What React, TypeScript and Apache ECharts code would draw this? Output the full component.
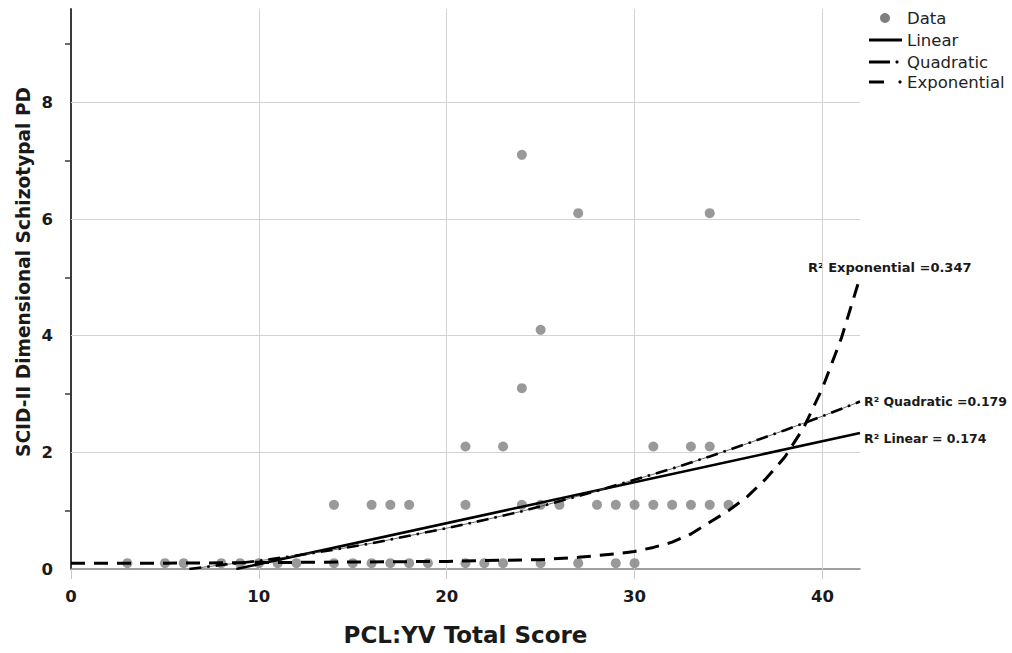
import React, { useEffect, useRef } from "react";
import * as echarts from "echarts";

// Observed data points (PCL:YV score, SCID-II dimensional schizotypal PD)
const pclScores = [
  3, 5, 6, 8, 9, 10, 11, 12, 14, 15, 16, 17, 18, 19, 21, 22, 23, 25, 27, 29, 30,
  14, 16, 17, 18, 21, 24, 25, 26, 28, 29, 30, 31, 32, 33, 34, 35,
  21, 23, 31, 33, 34,
  24,
  25,
  27, 34,
  24,
];
const scidScores = [
  0.1, 0.1, 0.1, 0.1, 0.1, 0.1, 0.1, 0.1, 0.1, 0.1, 0.1, 0.1, 0.1, 0.1, 0.1, 0.1, 0.1, 0.1, 0.1, 0.1, 0.1,
  1.1, 1.1, 1.1, 1.1, 1.1, 1.1, 1.1, 1.1, 1.1, 1.1, 1.1, 1.1, 1.1, 1.1, 1.1, 1.1,
  2.1, 2.1, 2.1, 2.1, 2.1,
  3.1,
  4.1,
  6.1, 6.1,
  7.1,
];

// Fit curves
const linearX = [8.8, 42];
const linearY = [0, 2.33];
const quadX = [6.3, 8, 10, 12, 14, 16, 18, 20, 22, 24, 26, 28, 30, 32, 34, 36, 38, 40, 42];
const quadY = [0, 0.07, 0.14, 0.23, 0.33, 0.44, 0.57, 0.7, 0.84, 0.99, 1.16, 1.34, 1.53, 1.72, 1.93, 2.15, 2.38, 2.62, 2.87];
const expX = [0, 5, 10, 15, 20, 23, 25, 27, 29, 30, 31, 32, 33, 34, 35, 36, 37, 38, 39, 40, 41, 42];
const expY = [0.1, 0.1, 0.11, 0.12, 0.13, 0.15, 0.16, 0.2, 0.26, 0.3, 0.37, 0.46, 0.6, 0.8, 1.0, 1.24, 1.55, 1.92, 2.42, 3.1, 3.95, 5.0];

const xTicks = [0, 10, 20, 30, 40];
const yTicks = [0, 2, 4, 6, 8];
const xGrid = [10, 20, 30, 40];
const yGrid = [2, 4, 6, 8];

const xTitle = "PCL:YV Total Score";
const yTitle = "SCID-II Dimensional Schizotypal PD";
const rLinear = "R² Linear = 0.174";
const rQuad = "R² Quadratic =0.179";
const rExp = "R² Exponential =0.347";

const FONT = "DejaVu Sans";
const zip = (xs: number[], ys: number[]) => xs.map((x, i) => [x, ys[i]]);

export default function App() {
  const ref = useRef<HTMLDivElement>(null);
  useEffect(() => {
    if (!ref.current) return;
    const chart = echarts.init(ref.current, undefined, { renderer: "svg" });
    const labelText = { fontFamily: FONT, fontWeight: "bold", fontSize: 12.5, fill: "#1a1a1a" };
    const legendText = { fontFamily: FONT, fontSize: 16.5, fill: "#222" };
    chart.setOption({
      animation: false,
      backgroundColor: "#ffffff",
      grid: { left: 71, right: 152, top: 9, bottom: 84, containLabel: false },
      xAxis: {
        type: "value",
        min: 0,
        max: 42,
        interval: 10,
        name: xTitle,
        nameLocation: "middle",
        nameGap: 54,
        nameTextStyle: { fontFamily: FONT, fontWeight: "bold", fontSize: 23, color: "#1a1a1a" },
        axisLine: { show: true, lineStyle: { color: "#808080", width: 1.5 } },
        axisTick: { show: true, customValues: xTicks, length: 10, lineStyle: { color: "#c8c8c8", width: 1 } },
        axisLabel: { customValues: xTicks, fontFamily: FONT, fontWeight: "bold", fontSize: 16.5, color: "#1a1a1a", margin: 19 },
        splitLine: { show: false },
      },
      yAxis: {
        type: "value",
        min: 0,
        max: 9.6,
        interval: 2,
        axisLine: { show: true, lineStyle: { color: "#3a3a3a", width: 2 } },
        axisTick: { show: false },
        minorTick: { show: true, splitNumber: 2, length: 6, lineStyle: { color: "#3a3a3a", width: 1.5 } },
        axisLabel: { customValues: yTicks, fontFamily: FONT, fontWeight: "bold", fontSize: 16.5, color: "#1a1a1a", margin: 18 },
        splitLine: { show: false },
      },
      series: [
        {
          name: "Data",
          type: "scatter",
          z: 3,
          symbol: "circle",
          symbolSize: 10,
          itemStyle: { color: "#7f7f7f" },
          data: zip(pclScores, scidScores),
          markLine: {
            silent: true,
            z: 1,
            symbol: "none",
            label: { show: false },
            lineStyle: { color: "#d2d2d2", width: 1, type: "solid" },
            data: [...yGrid.map((v) => ({ yAxis: v })), ...xGrid.map((v) => ({ xAxis: v }))],
          },
        },
        {
          name: "Linear",
          type: "line",
          z: 5,
          showSymbol: false,
          symbol: "none",
          lineStyle: { color: "#000", width: 2.6, type: "solid" },
          data: zip(linearX, linearY),
        },
        {
          name: "QuadraticThin",
          type: "line",
          z: 5,
          showSymbol: false,
          symbol: "none",
          lineStyle: { color: "#444", width: 0.8 },
          data: zip(quadX, quadY),
        },
        {
          name: "Quadratic",
          type: "line",
          z: 6,
          showSymbol: false,
          symbol: "none",
          lineStyle: { color: "#000", width: 2.6, type: [12, 6, 2.5, 6] },
          data: zip(quadX, quadY),
        },
        {
          name: "Exponential",
          type: "line",
          z: 6,
          showSymbol: false,
          symbol: "none",
          lineStyle: { color: "#000", width: 3, type: [14, 9] },
          data: zip(expX, expY),
        },
      ],
      graphic: [
        {
          type: "text",
          x: 23,
          y: 272,
          rotation: Math.PI / 2,
          style: {
            text: yTitle,
            fontFamily: FONT,
            fontWeight: "bold",
            fontSize: 18.6,
            fill: "#1a1a1a",
            align: "center",
            verticalAlign: "middle",
          },
        },
        { type: "circle", shape: { cx: 885, cy: 18, r: 5 }, style: { fill: "#7f7f7f" } },
        { type: "text", x: 907, y: 18, style: { ...legendText, text: "Data", verticalAlign: "middle" } },
        { type: "line", shape: { x1: 869, y1: 40, x2: 902, y2: 40 }, style: { stroke: "#000", lineWidth: 3 } },
        { type: "text", x: 907, y: 40, style: { ...legendText, text: "Linear", verticalAlign: "middle" } },
        { type: "line", shape: { x1: 869, y1: 62, x2: 890, y2: 62 }, style: { stroke: "#000", lineWidth: 3 } },
        { type: "circle", shape: { cx: 897, cy: 62, r: 1.6 }, style: { fill: "#000" } },
        { type: "text", x: 907, y: 62, style: { ...legendText, text: "Quadratic", verticalAlign: "middle" } },
        { type: "line", shape: { x1: 869, y1: 82, x2: 884, y2: 82 }, style: { stroke: "#000", lineWidth: 3 } },
        { type: "circle", shape: { cx: 900, cy: 82, r: 1.6 }, style: { fill: "#000" } },
        { type: "text", x: 907, y: 82, style: { ...legendText, text: "Exponential", verticalAlign: "middle" } },
        { type: "text", x: 808, y: 267, style: { ...labelText, fontSize: 13, text: rExp, verticalAlign: "middle" } },
        { type: "text", x: 864, y: 401, style: { ...labelText, text: rQuad, verticalAlign: "middle" } },
        { type: "text", x: 864, y: 438, style: { ...labelText, text: rLinear, verticalAlign: "middle" } },
      ],
    });
    return () => chart.dispose();
  }, []);
  return (
    <div
      ref={ref}
      style={{ position: "fixed", left: 0, top: 0, width: 1012, height: 653, background: "#fff" }}
    />
  );
}
